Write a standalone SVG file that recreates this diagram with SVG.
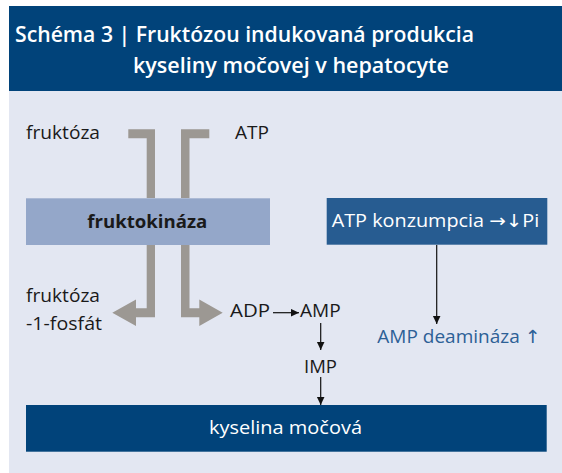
<svg xmlns="http://www.w3.org/2000/svg" width="562" height="473" viewBox="0 0 562 473">
<defs>
<style>
.t{font-family:"Open Sans","Noto Sans","DejaVu Sans",sans-serif;font-size:18px;fill:#1a1a1a}
.w{fill:#ffffff}
.title{font-family:"Open Sans","Noto Sans","DejaVu Sans",sans-serif;font-size:22px;font-weight:600;fill:#ffffff}
.bar{fill:#9c9893}
.ln{stroke:#111111;stroke-width:1.2;fill:none;marker-end:url(#ah)}
</style>
<marker id="ah" markerUnits="userSpaceOnUse" markerWidth="10" markerHeight="9" refX="8.5" refY="4" orient="auto">
<path d="M0,0 L8.5,4 L0,8 z" fill="#111111"/>
</marker>
</defs>
<rect x="0" y="0" width="562" height="473" fill="#ffffff"/>
<rect x="9" y="91" width="553" height="382" fill="#e3e7f2"/>
<g id="header">
<rect x="9" y="6" width="553" height="85" fill="#01437a"/>
<text class="title" x="15" y="41.7" textLength="459" lengthAdjust="spacingAndGlyphs">Schéma 3 | Fruktózou indukovaná produkcia</text>
<text class="title" x="133" y="72.5" textLength="316" lengthAdjust="spacingAndGlyphs">kyseliny močovej v hepatocyte</text>
</g>
<g id="connectors">
<path class="bar" d="M128.3,129.3 H155 V198 H146.7 V138.3 H128.3 Z"/>
<path class="bar" d="M181,129.3 H209.3 V138.3 H189.5 V198 H181 Z"/>
<path class="bar" d="M146.7,245 H155 V317.3 H136 V326 L112.3,312.8 L136,299.5 V308.3 H146.7 Z"/>
<path class="bar" d="M181,245 H189.5 V308.3 H199.3 V299.5 L222.7,312.8 L199.3,326 V317.3 H181 Z"/>
<line class="ln" x1="273" y1="312.7" x2="299" y2="312.7"/>
<line class="ln" x1="320.7" y1="323" x2="320.7" y2="350"/>
<line class="ln" x1="320.7" y1="377" x2="320.7" y2="405"/>
<line class="ln" x1="436.7" y1="245" x2="436.7" y2="324"/>
</g>
<g id="fruktoza">
<text class="t" x="26" y="139.3" textLength="74" lengthAdjust="spacingAndGlyphs">fruktóza</text>
</g>
<g id="atp">
<text class="t" x="235" y="139.3" textLength="34" lengthAdjust="spacingAndGlyphs">ATP</text>
</g>
<g id="fruktokinaza">
<rect x="26" y="198.3" width="244" height="46.7" fill="#94a7c9"/>
<text class="t" x="87.3" y="228.3" font-weight="700" textLength="120" lengthAdjust="spacingAndGlyphs">fruktokináza</text>
</g>
<g id="atp-konzumpcia">
<rect x="326.7" y="198" width="220.6" height="46.7" fill="#275c91"/>
<text class="t w" x="331.7" y="226.7" textLength="207.6" lengthAdjust="spacingAndGlyphs">ATP konzumpcia →↓Pi</text>
</g>
<g id="fruktoza-1-fosfat">
<text class="t" x="26" y="301.7" textLength="74" lengthAdjust="spacingAndGlyphs">fruktóza</text>
<text class="t" x="26" y="330" textLength="76" lengthAdjust="spacingAndGlyphs">-1-fosfát</text>
</g>
<g id="adp">
<text class="t" x="230" y="317.3" textLength="40" lengthAdjust="spacingAndGlyphs">ADP</text>
</g>
<g id="amp">
<text class="t" x="300" y="317.3" textLength="40.7" lengthAdjust="spacingAndGlyphs">AMP</text>
</g>
<g id="imp">
<text class="t" x="304" y="373.3" textLength="33" lengthAdjust="spacingAndGlyphs">IMP</text>
</g>
<g id="amp-deaminaza">
<text class="t" x="377.3" y="343.3" style="fill:#2d6096" textLength="163.4" lengthAdjust="spacingAndGlyphs">AMP deamináza ↑</text>
</g>
<g id="kyselina-mocova">
<rect x="26" y="405" width="520.7" height="46.7" fill="#01437a"/>
<text class="t w" x="209" y="433.5" textLength="153" lengthAdjust="spacingAndGlyphs">kyselina močová</text>
</g>
</svg>
